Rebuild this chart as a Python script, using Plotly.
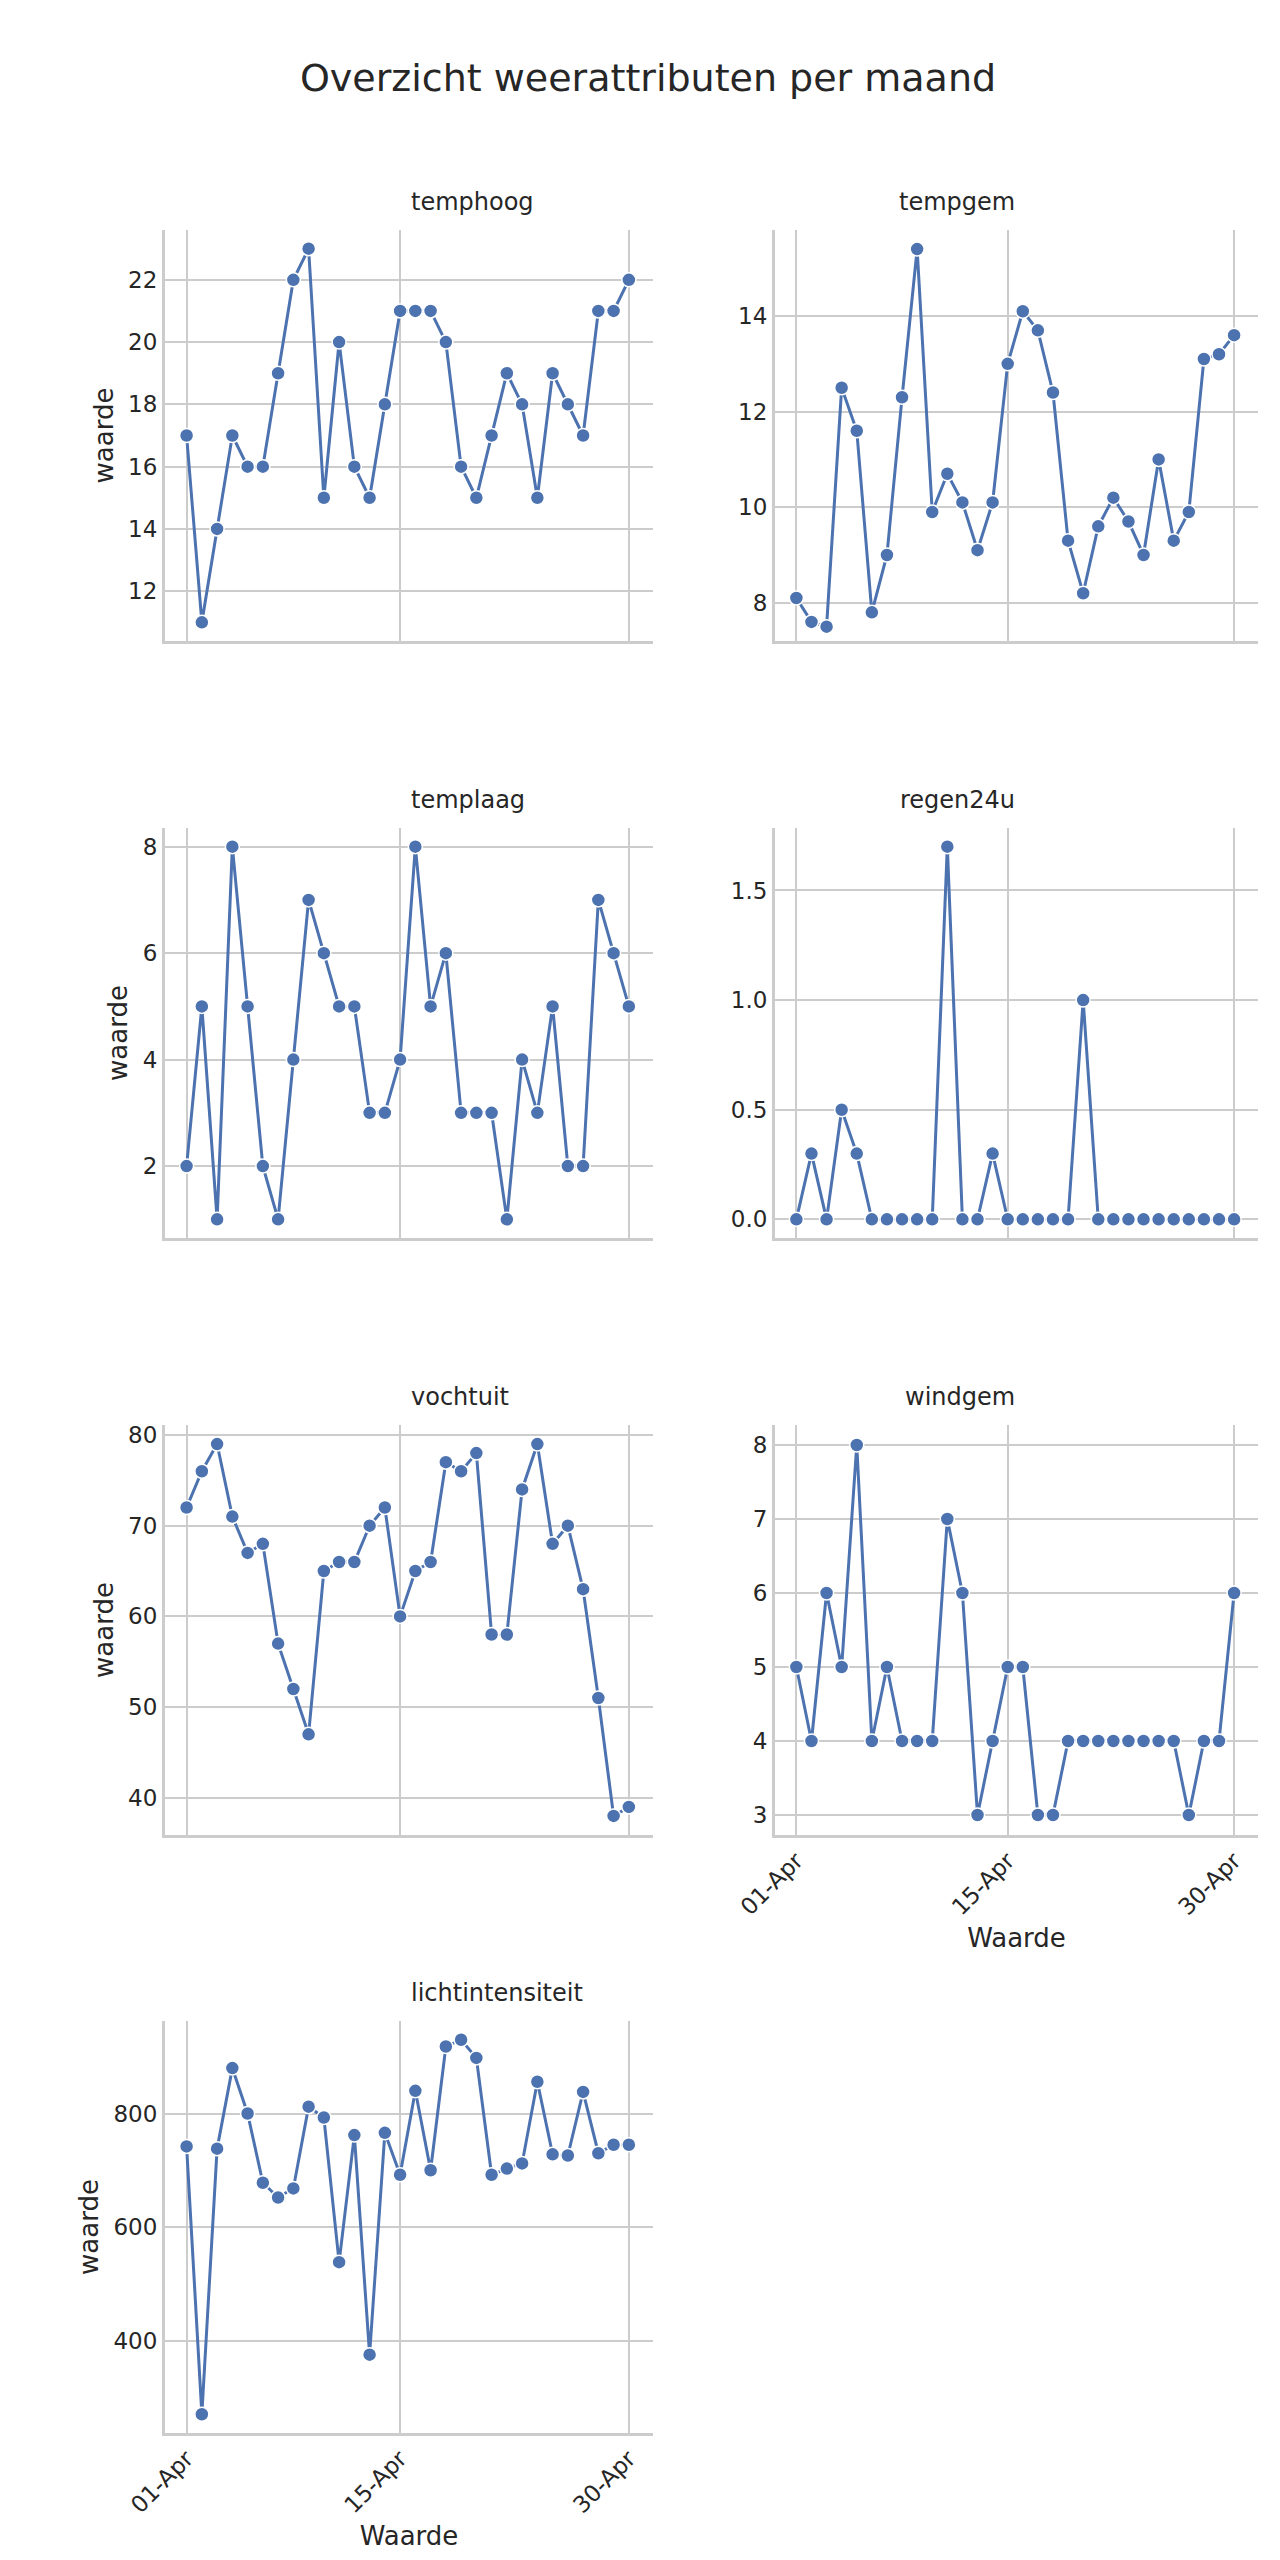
import pandas as pd
import plotly.graph_objects as go

dates = pd.date_range("2024-04-01", "2024-04-30", freq="D")

temphoog = [17, 11, 14, 17, 16, 16, 19, 22, 23, 15, 20, 16, 15, 18, 21, 21, 21, 20, 16, 15,
            17, 19, 18, 15, 19, 18, 17, 21, 21, 22]
tempgem = [8.1, 7.6, 7.5, 12.5, 11.6, 7.8, 9.0, 12.3, 15.4, 9.9, 10.7, 10.1, 9.1, 10.1, 13.0,
           14.1, 13.7, 12.4, 9.3, 8.2, 9.6, 10.2, 9.7, 9.0, 11.0, 9.3, 9.9, 13.1, 13.2, 13.6]
templaag = [2, 5, 1, 8, 5, 2, 1, 4, 7, 6, 5, 5, 3, 3, 4, 8, 5, 6, 3, 3, 3, 1, 4, 3, 5, 2, 2, 7, 6, 5]
regen24u = [0, 0.3, 0, 0.5, 0.3, 0, 0, 0, 0, 0, 1.7, 0, 0, 0.3, 0, 0, 0, 0, 0, 1.0,
            0, 0, 0, 0, 0, 0, 0, 0, 0, 0]
vochtuit = [72, 76, 79, 71, 67, 68, 57, 52, 47, 65, 66, 66, 70, 72, 60, 65, 66, 77, 76, 78,
            58, 58, 74, 79, 68, 70, 63, 51, 38, 39]
windgem = [5, 4, 6, 5, 8, 4, 5, 4, 4, 4, 7, 6, 3, 4, 5, 5, 3, 3, 4, 4, 4, 4, 4, 4, 4, 4, 3, 4, 4, 6]
lichtintensiteit = [742, 270, 738, 880, 800, 678, 652, 668, 812, 793, 538, 762, 375, 766, 692,
                    840, 700, 918, 930, 898, 692, 703, 712, 856, 728, 726, 838, 730, 745, 745]

tick_dates = ["2024-04-01", "2024-04-15", "2024-04-30"]
tick_labels = ["01-Apr", "15-Apr", "30-Apr"]

panels = [
    ("temphoog", temphoog, [10.4, 23.6], [12, 14, 16, 18, 20, 22]),
    ("tempgem", tempgem, [7.2, 15.8], [8, 10, 12, 14]),
    ("templaag", templaag, [0.65, 8.35], [2, 4, 6, 8]),
    ("regen24u", regen24u, [-0.085, 1.785], [0.0, 0.5, 1.0, 1.5]),
    ("vochtuit", vochtuit, [35.9, 81.1], [40, 50, 60, 70, 80]),
    ("windgem", windgem, [2.73, 8.27], [3, 4, 5, 6, 7, 8]),
    ("lichtintensiteit", lichtintensiteit, [237, 963], [400, 600, 800]),
]

# plot areas in pixels of the 1280x2560 page
W, H = 1280, 2560
cols_px = [(157, 645), (767, 1250)]
rows_px = [(222, 633), (820, 1230), (1417, 1827), (2013, 2425)]
bottom_panels = {"windgem", "lichtintensiteit"}

FONT = "DejaVu Sans"
GRID = "#cccccc"
BLUE = "#4c72b0"
TXT = "#262626"

fig = go.Figure()
for i, (name, vals, yr, ytv) in enumerate(panels):
    r, c = divmod(i, 2)
    n = i + 1
    xa = "x" if n == 1 else f"x{n}"
    ya = "y" if n == 1 else f"y{n}"
    fig.add_trace(go.Scatter(
        x=dates, y=vals, mode="lines+markers", xaxis=xa, yaxis=ya, showlegend=False,
        line=dict(color=BLUE, width=3),
        marker=dict(color=BLUE, size=14, line=dict(color="white", width=1.5)),
    ))
    x0, x1 = cols_px[c]
    y0, y1 = rows_px[r]
    show_x = name in bottom_panels
    fig.layout[f"xaxis{'' if n == 1 else n}"] = dict(
        domain=[x0 / W, x1 / W], anchor=ya, type="date", automargin=False,
        range=["2024-03-30 14:00", "2024-05-01 14:00"],
        tickvals=tick_dates, ticktext=tick_labels if show_x else ["", "", ""],
        tickangle=-45, showgrid=True, gridcolor=GRID, gridwidth=2,
        showline=True, linecolor=GRID, linewidth=3, zeroline=False,
        tickfont=dict(family=FONT, size=23, color=TXT),
        title=dict(text="Waarde" if show_x else "", standoff=10,
                   font=dict(family=FONT, size=26, color=TXT)),
    )
    fig.layout[f"yaxis{'' if n == 1 else n}"] = dict(
        domain=[1 - y1 / H, 1 - y0 / H], anchor=xa, range=yr, automargin=False,
        tickvals=ytv, ticktext=[f"{v:.1f}" if name == "regen24u" else str(v) for v in ytv],
        showgrid=True, gridcolor=GRID, gridwidth=2,
        showline=True, linecolor=GRID, linewidth=3, zeroline=False,
        tickfont=dict(family=FONT, size=23, color=TXT),
        title=dict(text="waarde" if c == 0 else "", standoff=8,
                   font=dict(family=FONT, size=26, color=TXT)),
    )
    fig.add_annotation(
        x=(x0 + x1) / 2 / W, y=1 - (y0 - 12) / H, xref="paper", yref="paper",
        text=name, showarrow=False, yanchor="bottom",
        font=dict(family=FONT, size=24, color=TXT),
    )

fig.update_layout(
    width=W, height=H, margin=dict(l=0, r=0, t=0, b=0),
    plot_bgcolor="white", paper_bgcolor="white",
    title=dict(text="Overzicht weerattributen per maand", x=0.5, xanchor="center",
               y=1 - 70 / H, yanchor="middle",
               font=dict(family=FONT, size=38, color=TXT)),
)

fig.write_html("out.html")
